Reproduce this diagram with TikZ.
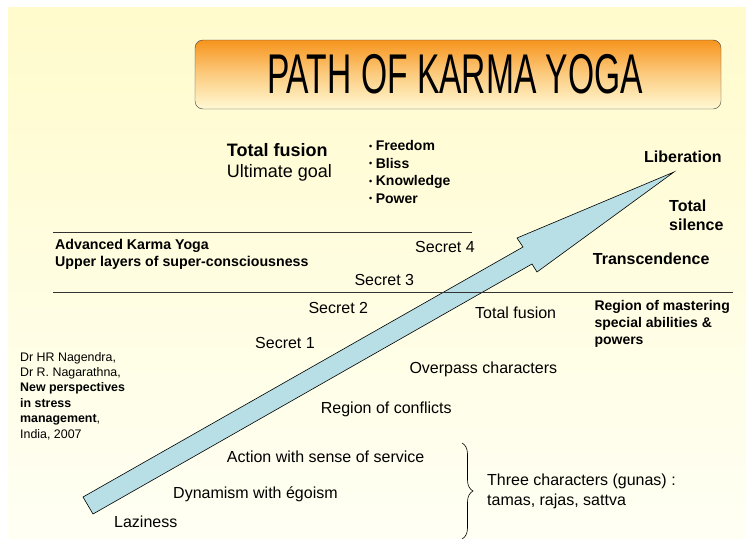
\documentclass[tikz,border=0pt]{standalone}
\usepackage{fontspec}
\setmainfont{Liberation Sans}
\usetikzlibrary{decorations.pathreplacing}

\definecolor{bgtop}{RGB}{255,251,204}
\definecolor{bgbot}{RGB}{255,255,244}
\definecolor{titletop}{RGB}{247,148,29}
\definecolor{titlemid}{RGB}{252,204,128}
\definecolor{titlebot}{RGB}{255,249,212}
\definecolor{pathblue}{RGB}{183,223,229}

\tikzset{
    lbl/.style={anchor=base west, inner sep=0pt, font=\fontsize{16}{19}\selectfont},
    lblbig/.style={lbl, font=\fontsize{18}{21}\selectfont},
    lblhead/.style={lbl, font=\fontsize{16}{19}\selectfont\bfseries},
    lblbold/.style={lbl, font=\fontsize{14}{17}\selectfont\bfseries},
    lblref/.style={lbl, font=\fontsize{12.4}{14}\selectfont},
    layer/.style={line width=0.8pt, black!80},
}
\newcommand{\smallbul}{{\fontsize{9}{9}\selectfont\raisebox{1.5pt}{\textbullet}}\hspace{3.5pt}}

\begin{document}
\begin{tikzpicture}[x=1pt,y=-1pt]
    \useasboundingbox (0,0) rectangle (746,538);
    % Background
    \shade[top color=bgtop, bottom color=bgbot] (8,7) rectangle (746,538);

    % Title
    \node[draw=black!75, rounded corners=8pt, top color=titletop, bottom color=titlebot,
          middle color=titlemid, minimum width=526pt, minimum height=69pt, inner sep=0pt]
          (titlebox) at (458,74.5) {};
    \node[inner sep=0pt] (title) at (455,74)
          {\fontsize{56}{60}\selectfont\scalebox{0.6}[1]{PATH OF KARMA YOGA}};

    % Arrow of the path
    \coordinate (tailA) at (83,497);
    \coordinate (tailB) at (93,514);
    \coordinate (notchA) at (523,247);
    \coordinate (barbA) at (517,238);
    \coordinate (tip) at (674,172);
    \coordinate (barbB) at (537,272);
    \coordinate (notchB) at (532,264);
    \draw[fill=pathblue, line width=0.6pt] (tailA) -- (notchA) -- (barbA) -- (tip)
        -- (barbB) -- (notchB) -- (tailB) -- cycle;

    % Layers
    \draw[layer] (53,232.5) -- (472,232.5);
    \draw[layer] (53,292.5) -- (733,292.5);

    % Goal
    \node[lblbig, font=\fontsize{18}{21}\selectfont\bfseries] (fusion) at (226.7,156) {Total fusion};
    \node[lblbig] (goal) at (226.7,177.3) {Ultimate goal};
    \foreach \w [count=\k] in {Freedom,Bliss,Knowledge,Power}
    {\node[lblbold] (gain\k) at (369,133.2+17.5*\k) {\smallbul\w};}

    \node[lblbold, font=\fontsize{14.2}{17}\selectfont\bfseries] (advanced) at (55,249.3) {Advanced Karma Yoga};
    \node[lblbold, font=\fontsize{14.2}{17}\selectfont\bfseries] (upper) at (55,266.7) {Upper layers of super-consciousness};

    % Secrets
    \foreach \k/\x/\y in {1/255/348.3, 2/308.3/313.3, 3/354.3/285, 4/415/252}
    {\node[lbl] (secret\k) at (\x,\y) {Secret \k};}

    % Right side
    \node[lblhead] (liberation) at (644,162.7) {Liberation};
    \node[lblhead] (total) at (669,211) {Total};
    \node[lblhead] (silence) at (669,230.7) {silence};
    \node[lblhead] (transcend) at (592.7,264) {Transcendence};
    \foreach \t [count=\k] in {Region of mastering,special abilities \&,powers}
    {\node[lblbold] (master\k) at (594.3,294+16.7*\k) {\t};}
    \node[lbl] (fusionlow) at (475,318.3) {Total fusion};

    % Lower steps
    \node[lbl] (overpass) at (409.3,373.3) {Overpass characters};
    \node[lbl] (conflicts) at (320.7,413.3) {Region of conflicts};
    \node[lbl] (service) at (226.7,462) {Action with sense of service};
    \node[lbl] (dynamism) at (173,498.5) {Dynamism with égoism};
    \node[lbl] (laziness) at (114,527.3) {Laziness};

    % Gunas
    \draw[decorate, decoration={brace, amplitude=11pt}, line width=0.6pt] (462,443) -- (462,539);
    \node[lbl] (gunas) at (487,485) {Three characters (gunas) :};
    \node[lbl] (gunalist) at (487,505) {tamas, rajas, sattva};

    % Reference
    \foreach \t [count=\k] in {{Dr HR Nagendra,},{Dr R. Nagarathna,},{\textbf{New perspectives}},
        {\textbf{in stress}},{\textbf{management},},{India, 2007}}
    {\node[lblref] (ref\k) at (20,345.6+15.4*\k) {\t};}
\end{tikzpicture}
\end{document}
